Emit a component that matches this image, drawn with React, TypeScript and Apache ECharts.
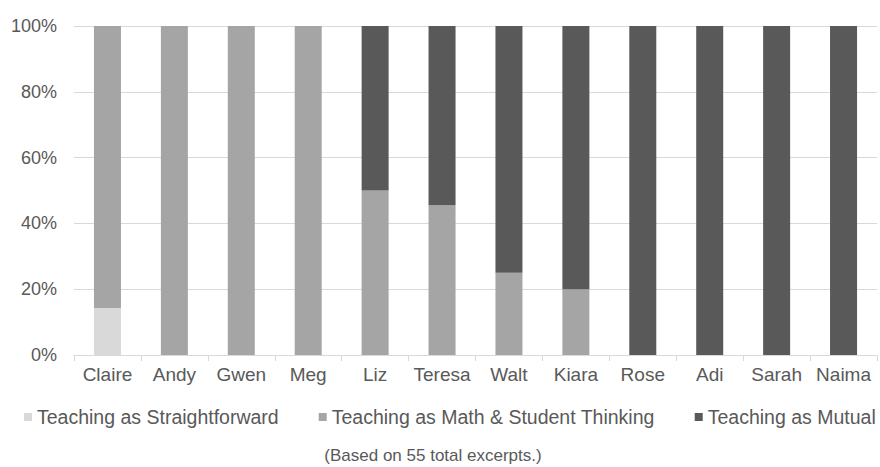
import React, { useEffect, useRef } from "react";
import * as echarts from "echarts";

const categories = ["Claire", "Andy", "Gwen", "Meg", "Liz", "Teresa", "Walt", "Kiara", "Rose", "Adi", "Sarah", "Naima"];
const straightforward = [14.3, 0, 0, 0, 0, 0, 0, 0, 0, 0, 0, 0];
const mathThinking = [85.7, 100, 100, 100, 50, 45.5, 25, 20, 0, 0, 0, 0];
const mutual = [0, 0, 0, 0, 50, 54.5, 75, 80, 100, 100, 100, 100];
const seriesNames = ["Teaching as Straightforward", "Teaching as Math & Student Thinking", "Teaching as Mutual"];
const note = "(Based on 55 total excerpts.)";

const FONT = "'Liberation Sans', Arial, sans-serif";
const TEXT = "#595959";

export default function App() {
  const ref = useRef<HTMLDivElement>(null);
  useEffect(() => {
    if (!ref.current) return;
    const chart = echarts.init(ref.current, undefined, { renderer: "svg" });
    const mk = (name: string, data: number[], color: string) => ({
      name,
      type: "bar",
      stack: "total",
      data,
      barWidth: 27,
      itemStyle: { color },
      emphasis: { disabled: true },
    });
    chart.setOption({
      animation: false,
      textStyle: { fontFamily: FONT },
      grid: { left: 74, right: 3, top: 26, bottom: 112, containLabel: false },
      legend: {
        bottom: 40,
        left: 24,
        width: 856,
        padding: 0,
        itemWidth: 8,
        itemHeight: 8,
        itemGap: 40,
        icon: "rect",
        textStyle: { color: TEXT, fontSize: 19.5, fontFamily: FONT },
        data: seriesNames,
      },
      xAxis: {
        type: "category",
        data: categories,
        axisLine: { lineStyle: { color: "#d9d9d9", width: 1 } },
        axisTick: { show: true, length: 6, lineStyle: { color: "#d9d9d9" } },
        axisLabel: { color: TEXT, fontSize: 19, margin: 10, fontFamily: FONT, interval: 0 },
      },
      yAxis: {
        type: "value",
        min: 0,
        max: 100,
        interval: 20,
        axisLabel: { color: TEXT, fontSize: 18, margin: 17, formatter: "{value}%", fontFamily: FONT },
        splitLine: { lineStyle: { color: "#d9d9d9", width: 1 } },
        axisLine: { show: false },
        axisTick: { show: false },
      },
      graphic: [
        {
          type: "text",
          x: 433,
          y: 447,
          style: { text: note, fill: TEXT, font: `17px ${FONT}`, textAlign: "center" },
        },
      ],
      series: [
        mk(seriesNames[0], straightforward, "#d9d9d9"),
        mk(seriesNames[1], mathThinking, "#a5a5a5"),
        mk(seriesNames[2], mutual, "#595959"),
      ],
    });
    return () => chart.dispose();
  }, []);
  return <div ref={ref} style={{ width: 880, height: 467, position: "absolute", left: 0, top: 0, background: "#fff" }} />;
}
